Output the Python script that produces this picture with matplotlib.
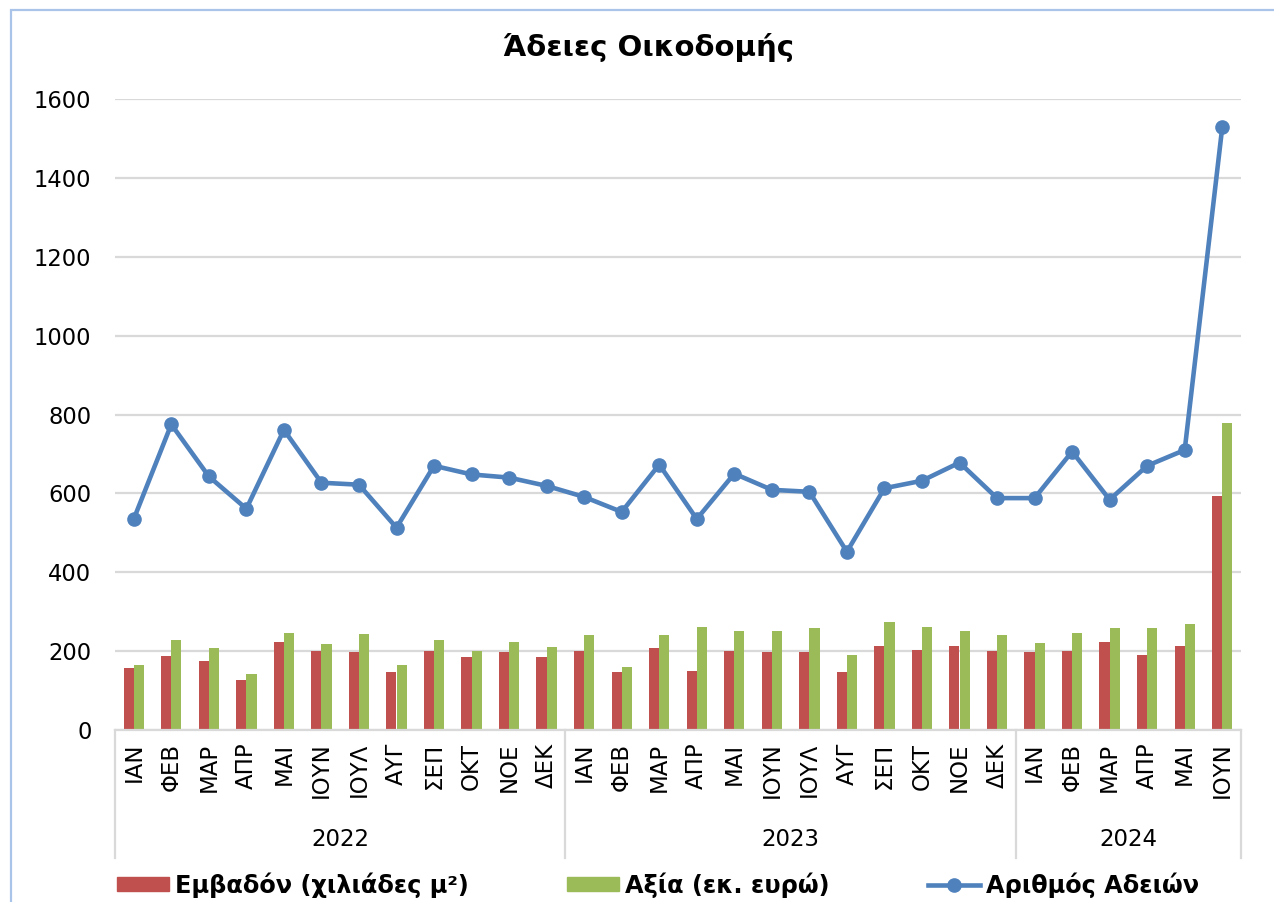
import matplotlib
matplotlib.use("Agg")
import matplotlib.pyplot as plt
from matplotlib.patches import Rectangle
from matplotlib.lines import Line2D

plt.rcParams['font.family'] = ['DejaVu Sans']

months = ["ΙΑΝ", "ΦΕΒ", "ΜΑΡ", "ΑΠΡ", "ΜΑΙ", "ΙΟΥΝ", "ΙΟΥΛ", "ΑΥΓ", "ΣΕΠ", "ΟΚΤ", "ΝΟΕ", "ΔΕΚ",
          "ΙΑΝ", "ΦΕΒ", "ΜΑΡ", "ΑΠΡ", "ΜΑΙ", "ΙΟΥΝ", "ΙΟΥΛ", "ΑΥΓ", "ΣΕΠ", "ΟΚΤ", "ΝΟΕ", "ΔΕΚ",
          "ΙΑΝ", "ΦΕΒ", "ΜΑΡ", "ΑΠΡ", "ΜΑΙ", "ΙΟΥΝ"]
years = ["2022", "2023", "2024"]
year_counts = [12, 12, 6]

area = [156, 188, 175, 127, 224, 201, 198, 146, 201, 185, 198, 185,
        201, 146, 208, 149, 201, 198, 198, 146, 214, 204, 214, 201,
        198, 201, 224, 191, 214, 593]
value = [165, 227, 208, 142, 246, 217, 243, 165, 227, 201, 224, 210,
         240, 159, 240, 262, 252, 250, 259, 191, 275, 262, 252, 240,
         220, 246, 259, 259, 269, 779]
permits = [535, 775, 643, 561, 761, 627, 622, 513, 670, 648, 640, 619,
           591, 553, 673, 535, 650, 609, 604, 452, 613, 632, 678, 588,
           588, 706, 584, 670, 710, 1528]

title = "Άδειες Οικοδομής"
labels = ["Εμβαδόν (χιλιάδες μ²)", "Αξία (εκ. ευρώ)", "Αριθμός Αδειών"]

RED = "#C0504D"
GREEN = "#9BBB59"
BLUE = "#4F81BD"
GRID = "#D9D9D9"

W, H = 1274, 902
fig = plt.figure(figsize=(W / 100, H / 100), dpi=100)

# outer border
fig.add_artist(Rectangle((11 / W, -0.1), 1.2, 1 - 10 / H + 0.1, transform=fig.transFigure,
                         fill=False, edgecolor="#A9C4E8", linewidth=1.6))

left, right = 115 / W, 1241 / W
bottom, top = 1 - 730 / H, 1 - 99 / H
ax = fig.add_axes([left, bottom, right - left, top - bottom])

n = len(months)
x = list(range(n))
bw = 0.27
ax.bar([i - bw / 2 for i in x], area, width=bw, color=RED, zorder=2)
ax.bar([i + bw / 2 for i in x], value, width=bw, color=GREEN, zorder=2)
ax.plot(x, permits, color=BLUE, linewidth=3.3, marker="o", markersize=9.5, zorder=3,
        solid_joinstyle="round")

ax.set_xlim(-0.5, n - 0.5)
ax.set_ylim(0, 1600)
ax.set_yticks(range(0, 1601, 200))
ax.yaxis.grid(True, color=GRID, linewidth=1.6, zorder=0)
ax.set_axisbelow(True)
for s in ["top", "right", "left"]:
    ax.spines[s].set_visible(False)
ax.spines["bottom"].set_color(GRID)
ax.spines["bottom"].set_linewidth(1.6)
ax.tick_params(axis="y", length=0, pad=17, labelsize=16.3, labelcolor="#000000")
ax.set_xticks(x)
ax.set_xticklabels(months, rotation=90, fontsize=16.5)
ax.tick_params(axis="x", length=0, pad=9)

# multi-level year axis
span = (858 - 730) / (730 - 99)
ypos = (840 - 730) / (730 - 99)
start = 0
bounds = [-0.5]
for yr, c in zip(years, year_counts):
    end = start + c
    bounds.append(end - 0.5)
    ax.text((start + end - 1) / 2, -ypos, yr, transform=ax.get_xaxis_transform(),
            ha="center", va="center", fontsize=16.5)
    start = end
for b in bounds:
    ax.add_line(Line2D([b, b], [0, -span], transform=ax.get_xaxis_transform(),
                       color=GRID, linewidth=1.6, clip_on=False))

fig.text(649 / W, 1 - 48 / H, title, ha="center", va="center", fontsize=21, fontweight="bold")

handles = [Rectangle((0, 0), 1, 1, color=RED), Rectangle((0, 0), 1, 1, color=GREEN),
           Line2D([], [], color=BLUE, linewidth=3.3, marker="o", markersize=9.5)]
fig.legend(handles, labels, loc="center", bbox_to_anchor=(658 / W, 1 - 885 / H), ncol=3,
           frameon=False, prop={"size": 17.3, "weight": "bold"}, handlelength=2.16,
           handletextpad=0.25, columnspacing=4.1, handleheight=0.54)

fig.savefig("out.png", dpi=100, facecolor="white")
